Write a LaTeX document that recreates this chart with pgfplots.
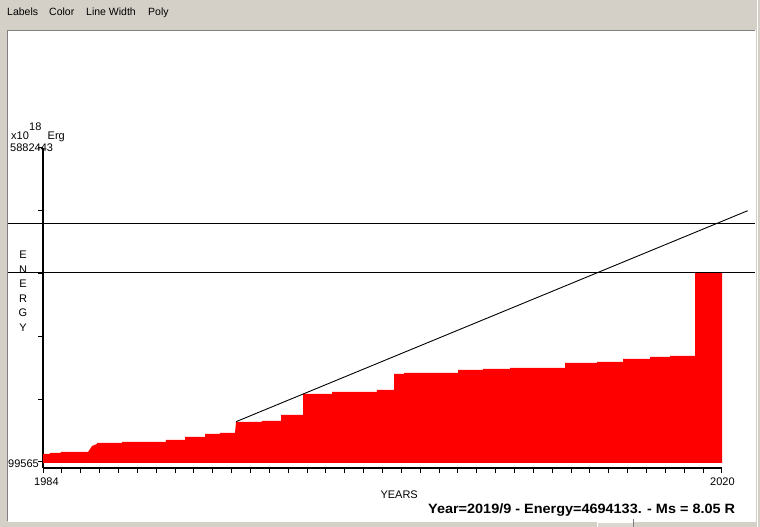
\documentclass[border=0pt]{standalone}
\usepackage{pgfplots}
\pgfplotsset{compat=1.18}
\usepackage{fontspec}
\setmainfont{Liberation Sans}
\definecolor{wingray}{HTML}{D4D0C8}
\definecolor{darkedge}{HTML}{808080}
\definecolor{redfill}{HTML}{FF0000}
\begin{document}
\begin{tikzpicture}[x=1pt,y=1pt]
% window background and white panel
\fill[wingray] (0,0) rectangle (760,527);
\fill[white] (8,6) rectangle (755,496);
\draw[darkedge, line width=1pt] (7.5,6) -- (7.5,496.5) -- (755,496.5);
\draw[white, line width=1pt] (8,5.5) -- (755.5,5.5) -- (755.5,496.5);
\draw[white, line width=1pt] (757.5,0) -- (757.5,527);
% small button at bottom
\fill[wingray!85!white] (597,0) rectangle (633,5);
\draw[white, line width=0.8pt] (597,0) -- (597,5) -- (633,5);
\draw[darkedge, line width=1pt] (633,0) -- (633,8);
% menu bar
\begin{scope}[font=\fontsize{10.5}{12}\selectfont]
\node[anchor=base west, inner sep=0] at (7,511) {Labels};
\node[anchor=base west, inner sep=0] at (49,511) {Color};
\node[anchor=base west, inner sep=0] at (86,511) {Line Width};
\node[anchor=base west, inner sep=0] at (148,511) {Poly};
\end{scope}

\begin{axis}[
  at={(43pt,59pt)}, anchor=south west,
  scale only axis, width=679pt, height=320pt,
  xmin=1984, xmax=2020, ymin=-10937, ymax=5882443,
  axis x line=bottom, axis y line=left,
  axis line style={-, line width=2pt, black},
  xtick={1984,...,2020}, xticklabels={},
  ytick={99565,1256141,2412716,3569292,4725868,5882443}, yticklabels={},
  scaled x ticks=false, scaled y ticks=false,
  tick align=outside, major tick length=5pt,
  tick style={black, line width=1pt},
  clip=false,
]
% cumulative energy (step area)
\addplot[fill=redfill, draw=none] coordinates {
  (1984.000,81148) (1984.000,246901) (1984.371,246901) (1984.371,265318)
  (1984.954,265318) (1984.954,283735) (1986.386,283735) (1986.598,394237)
  (1986.863,431071) (1986.863,449488) (1988.189,449488) (1988.189,467905)
  (1990.521,467905) (1990.521,504739) (1991.529,504739) (1991.529,559990)
  (1992.589,559990) (1992.589,615241) (1993.384,615241) (1993.384,633658)
  (1994.180,633658) (1994.233,836245) (1995.611,836245) (1995.611,854662)
  (1996.619,854662) (1996.619,965164) (1997.785,965164) (1997.785,1351921)
  (1999.323,1351921) (1999.323,1388755) (2001.708,1388755) (2001.708,1425589)
  (2002.610,1425589) (2002.610,1720261) (2003.140,1720261) (2003.140,1738678)
  (2006.003,1738678) (2006.003,1793929) (2007.329,1793929) (2007.329,1812346)
  (2008.760,1812346) (2008.760,1830763) (2011.676,1830763) (2011.676,1922848)
  (2013.373,1922848) (2013.373,1941265) (2014.751,1941265) (2014.751,1996516)
  (2016.183,1996516) (2016.183,2033350) (2017.243,2033350) (2017.243,2051767)
  (2018.569,2051767) (2018.569,3580378) (2020.000,3580378) (2020.000,81148)
} -- cycle;
% horizontal reference lines
\addplot[black, line width=1pt] coordinates {(1982.144,4482811) (2021.750,4482811)};
\addplot[black, line width=1pt] coordinates {(1982.144,3589587) (2021.750,3589587)};
% trend line
\addplot[black, line width=0.9pt] coordinates {(1994.233,841770) (2021.363,4727757)};
\end{axis}

% axis texts
\begin{scope}[font=\fontsize{11}{13}\selectfont]
\node[anchor=base west, inner sep=0] at (11,387.7) {x10};
\node[anchor=base west, inner sep=0] at (29,396) {18};
\node[anchor=base west, inner sep=0] at (47.5,387.7) {Erg};
\node[anchor=base west, inner sep=0] at (10,375.3) {5882443};
\node[anchor=base east, inner sep=0] at (39,59) {99565};
\node[anchor=base west, inner sep=0] at (34,41) {1984};
\node[anchor=base west, inner sep=0] at (710,41) {2020};
\node[anchor=base east, inner sep=0] at (418,28.7) {YEARS};
\node[anchor=base, inner sep=0] at (23,268) {E};
\node[anchor=base, inner sep=0] at (23,253.5) {N};
\node[anchor=base, inner sep=0] at (23,239) {E};
\node[anchor=base, inner sep=0] at (23,224.5) {R};
\node[anchor=base, inner sep=0] at (23,210) {G};
\node[anchor=base, inner sep=0] at (23,195.5) {Y};
\end{scope}
\node[anchor=base west, inner sep=0, font=\fontsize{13.5}{15}\selectfont\bfseries] at (428,13.7)
  {\scalebox{1.07}[1]{Year=2019/9 - Energy=4694133. - Ms = 8.05 R}};

\pgfresetboundingbox
\useasboundingbox (0,0) rectangle (760,527);
\end{tikzpicture}
\end{document}
